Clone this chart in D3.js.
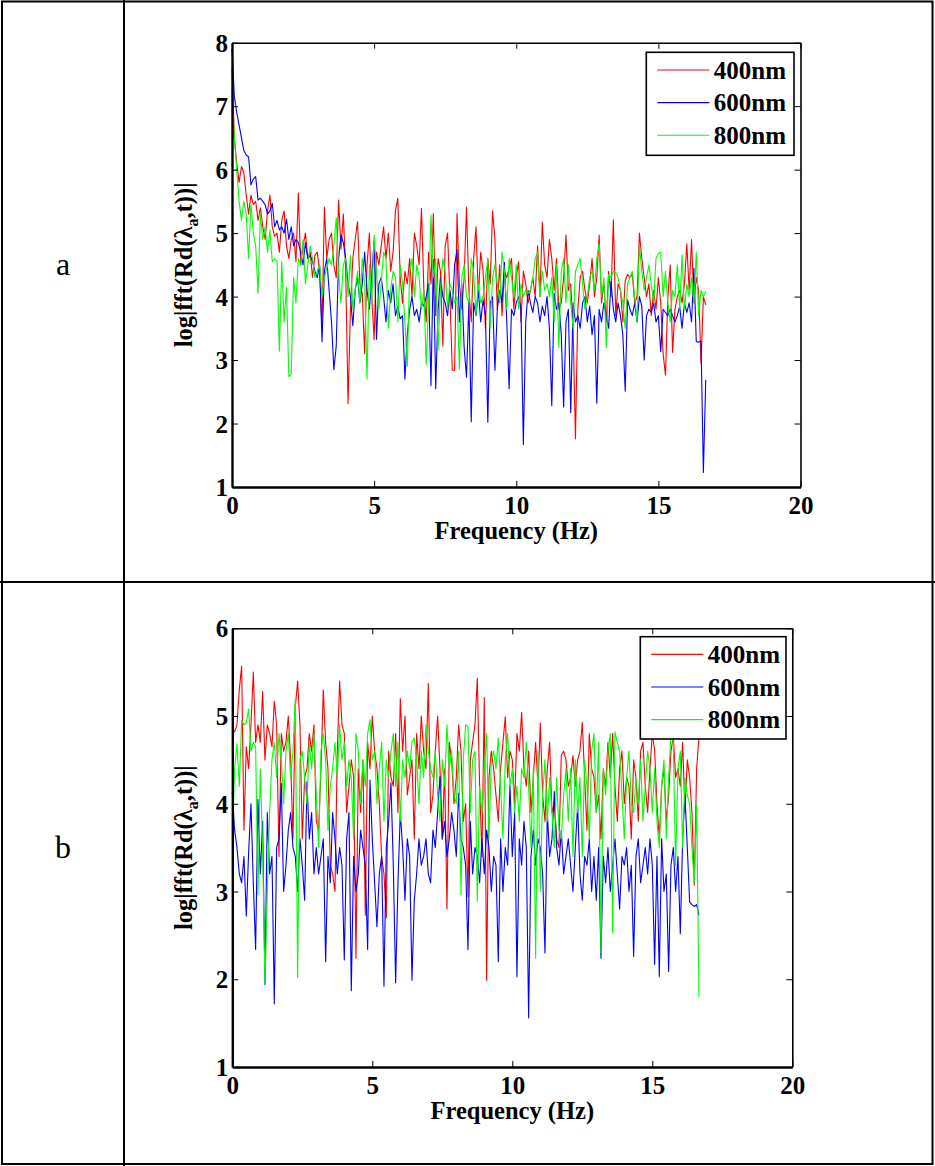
<!DOCTYPE html>
<html><head><meta charset="utf-8">
<script src="https://cdn.jsdelivr.net/npm/d3@7"></script>
<style>body{margin:0;background:#fff}svg{display:block}</style>
</head><body><svg id="c" width="935" height="1166"></svg>
<script>
const panelLabels = ["a", "b"];
const seriesNames = ["400nm", "600nm", "800nm"];
const seriesColors = ["#ff0000", "#0000ff", "#00ff00"];
const freqStep = 1 / 12; // Hz between samples
const xTicks = [0, 5, 10, 15, 20];
const yTicksA = [1, 2, 3, 4, 5, 6, 7, 8];
const yTicksB = [1, 2, 3, 4, 5, 6];
const xTitle = "Frequency (Hz)";

// panel a
const a400 = [
7.6,6.5,6.1,5.8,6.05,5.95,5.6,5.3,5.6,5.45,5.5,5.2,
5.4,5.1,4.9,5.35,5.6,5.1,4.95,5.0,4.7,5.2,5.35,4.8,
4.6,4.9,5.0,4.55,5.63,4.5,4.8,5.0,4.6,4.7,4.3,4.65,
4.7,4.4,3.5,5.41,4.6,4.9,5.0,4.5,4.3,5.52,4.75,5.3,
4.4,2.31,3.8,4.6,4.9,5.18,4.2,4.05,3.1,4.5,5.0,4.0,
3.32,4.7,4.5,4.8,5.1,4.6,5.0,4.4,4.7,5.35,5.55,4.3,
3.9,4.4,4.2,4.6,4.0,5.0,4.8,4.5,5.39,4.1,3.6,4.7,
4.2,5.31,3.7,4.6,4.4,3.22,4.8,5.0,4.0,2.84,2.84,5.31,
4.2,3.8,4.3,5.41,4.1,3.6,4.6,5.1,4.0,4.7,4.4,3.5,
4.6,4.2,5.35,4.9,3.8,4.5,3.7,4.4,4.3,4.45,4.6,3.8,
4.3,4.55,3.6,4.4,4.2,3.9,4.1,4.3,4.0,4.8,4.0,5.17,
4.5,4.3,4.9,4.6,4.1,4.6,3.8,3.9,4.3,4.97,4.1,4.2,
3.5,1.76,3.8,4.3,4.4,4.1,3.9,4.2,4.6,4.0,4.3,4.97,
3.9,4.2,3.6,4.4,4.0,5.21,3.7,4.2,4.1,3.6,4.25,4.35,
4.3,4.35,3.9,4.0,5.0,4.6,4.3,4.0,4.2,3.7,4.1,3.8,
4.3,3.9,3.1,2.76,4.0,4.5,3.12,3.8,4.0,4.1,3.9,4.2,
4.83,4.1,4.9,3.9,4.3,4.1,2.95,4.0,3.87];
const a600 = [
7.9,7.15,6.9,6.7,6.5,6.3,6.23,6.2,5.76,5.85,5.89,5.52,
5.55,5.5,5.45,5.3,5.35,5.47,5.1,5.2,5.05,5.1,5.0,5.22,
4.9,5.1,4.8,4.9,4.85,4.7,4.5,4.85,4.6,4.65,4.55,4.4,
4.3,4.5,3.29,4.4,4.6,4.1,3.6,2.85,3.22,4.6,4.97,4.85,
4.6,4.2,4.0,3.54,4.1,4.3,3.9,4.2,4.7,4.1,3.8,4.3,
4.89,3.33,4.2,4.3,4.0,3.6,4.1,3.9,4.2,3.7,3.85,3.65,
3.7,2.7,3.4,3.8,4.0,3.7,3.8,3.6,3.9,3.85,4.0,4.2,
2.6,4.58,2.55,3.8,4.3,4.0,3.9,3.7,4.1,3.8,4.5,4.74,
3.6,4.2,3.2,2.73,3.9,2.03,3.9,3.7,4.1,3.6,3.95,3.7,
2.02,3.9,4.0,2.84,3.8,4.1,3.9,4.54,3.6,2.55,3.8,3.7,
3.9,4.0,3.8,1.67,3.6,4.1,3.9,3.75,4.0,3.9,3.6,3.85,
3.7,4.0,3.5,2.28,4.05,3.8,3.9,3.4,2.26,3.6,3.8,2.17,
3.9,3.6,3.7,3.5,3.9,4.0,3.6,3.85,3.4,3.7,2.32,3.8,
3.6,3.9,3.7,3.5,4.24,3.8,3.6,3.9,3.7,3.4,2.51,3.95,
3.8,3.7,3.9,3.6,4.0,3.85,3.0,3.7,3.8,3.75,3.9,3.6,
3.7,3.13,3.8,3.75,3.7,3.8,3.7,3.6,3.7,3.85,3.5,3.9,
3.75,3.9,3.6,4.45,3.29,3.28,3.3,1.23,2.69];
const a800 = [
7.25,6.5,6.0,5.5,5.2,5.5,5.3,4.6,5.45,5.0,4.8,4.05,
5.3,4.9,5.1,4.7,5.05,4.55,4.6,4.55,3.14,4.55,3.6,4.15,
2.74,2.77,4.3,3.9,4.6,4.5,4.9,4.2,4.5,4.8,4.6,4.3,
4.4,4.5,4.0,4.3,4.45,4.6,4.5,4.8,5.24,4.4,3.9,4.5,
4.6,4.0,4.65,3.8,4.1,4.4,3.9,4.6,4.2,2.7,4.5,3.9,
4.97,4.4,3.8,4.2,4.7,4.6,3.5,4.1,4.4,4.3,3.6,4.5,
4.2,3.6,2.9,4.4,4.6,4.0,4.5,4.3,3.8,4.1,2.93,3.9,
5.28,4.3,4.6,3.16,4.1,4.6,4.4,3.8,4.2,4.1,3.9,4.0,
2.86,4.3,4.5,4.0,3.9,4.6,4.4,3.7,4.2,3.9,4.0,4.3,
4.6,3.5,4.3,4.5,4.2,3.9,4.7,4.4,3.8,4.6,4.3,4.0,
4.5,3.8,4.2,4.0,4.1,4.05,4.1,4.3,4.6,4.7,4.0,4.4,
4.1,4.2,4.0,4.3,3.6,4.5,3.2,4.4,4.6,3.9,4.5,3.9,
3.5,4.4,4.5,4.6,4.2,3.8,4.0,4.3,4.4,4.1,4.6,4.83,
4.0,4.3,3.2,4.35,4.3,4.4,4.38,4.3,4.1,3.9,3.5,4.2,
4.3,4.4,4.0,3.6,4.8,4.4,4.1,4.3,4.5,4.2,3.9,4.6,
4.68,4.7,4.0,4.4,3.9,3.6,4.1,4.0,4.5,3.8,4.66,3.8,
4.2,4.0,4.3,3.9,4.7,3.7,4.1,4.0,4.08];

// panel b
const b400 = [
4.85,4.82,4.9,5.3,5.57,3.7,4.65,4.4,4.9,5.5,4.7,4.9,
4.7,5.28,4.5,4.9,4.8,4.65,5.17,4.9,3.4,4.8,4.6,4.7,
5.0,4.5,3.6,5.1,5.4,4.9,3.6,4.3,4.4,4.8,4.6,4.9,
3.8,3.7,4.4,5.3,4.7,4.4,3.3,3.2,3.0,4.6,5.4,4.9,
4.8,3.9,4.2,4.5,4.3,2.24,4.4,3.9,4.5,2.73,4.7,4.4,
5.0,4.6,4.4,4.0,3.4,3.2,2.7,4.6,4.3,4.2,4.8,3.9,
5.2,4.6,5.0,4.1,4.3,4.5,3.6,4.8,4.4,5.0,4.6,4.4,
5.37,3.9,4.1,4.6,5.0,4.4,3.6,4.4,2.8,4.7,4.5,4.0,
4.3,4.9,4.6,3.8,4.0,2.94,4.5,4.7,4.9,5.43,4.2,3.4,
5.21,1.99,4.3,4.6,4.4,4.1,3.8,4.4,4.7,4.99,4.3,4.6,
4.5,4.0,4.8,4.6,5.04,4.4,4.2,4.6,3.9,4.3,4.7,4.2,
4.92,4.1,3.8,4.4,4.7,3.9,4.0,3.6,3.5,4.55,4.6,4.5,
4.2,4.3,4.55,4.2,4.5,4.6,4.93,4.3,3.7,4.8,4.4,4.3,
3.9,4.1,3.6,4.4,4.2,4.7,4.3,4.8,4.2,3.8,4.4,4.6,
4.0,4.3,4.2,3.6,4.5,4.3,3.8,4.6,4.7,4.2,3.9,4.4,
4.8,4.61,4.0,3.6,4.2,4.4,3.8,4.1,4.6,4.77,4.3,4.4,
4.2,4.7,3.9,4.5,4.3,3.9,3.07,4.4,4.76];
const b600 = [
4.14,3.7,3.5,3.2,3.1,3.4,2.72,3.45,4.0,3.1,2.34,4.05,
3.2,3.8,1.94,3.9,3.2,3.4,1.72,3.5,3.6,4.23,3.0,3.3,
3.7,3.9,3.5,3.4,3.0,3.6,3.3,2.9,4.25,3.6,3.9,3.2,
3.5,3.2,3.4,3.6,2.2,3.4,3.1,3.9,3.6,3.2,3.5,3.3,
2.22,3.6,3.9,1.87,3.4,3.0,3.2,3.7,3.5,3.3,2.34,4.27,
3.6,3.1,2.6,3.2,3.4,1.92,3.5,3.8,4.24,3.3,1.96,3.1,
3.9,3.5,2.9,3.6,3.4,1.99,2.9,3.2,3.6,3.3,3.4,3.6,
3.2,3.1,3.7,3.5,3.9,4.31,3.6,3.8,3.4,3.6,3.9,3.7,
3.4,4.12,3.6,3.5,3.3,2.34,3.8,3.2,3.5,3.4,3.1,3.6,
3.2,3.7,3.5,3.0,3.4,3.3,2.2,3.6,3.0,3.5,3.3,4.21,
3.4,3.9,2.03,3.6,3.3,3.8,3.5,1.56,3.4,3.7,3.3,3.6,
3.5,3.2,2.3,3.9,3.4,3.6,4.14,3.5,3.3,3.7,3.2,3.4,
3.6,3.3,3.0,3.5,3.99,3.2,2.9,3.4,3.3,3.6,3.0,3.4,
2.9,3.5,2.24,3.4,3.1,3.5,3.0,3.3,3.6,3.2,2.8,3.4,
3.3,3.5,3.0,3.3,2.26,3.4,3.6,3.1,3.3,3.5,3.2,3.6,
3.3,2.17,3.4,2.03,3.6,3.0,3.2,2.09,3.3,3.5,3.0,3.4,
2.52,3.6,4.1,3.5,2.88,2.85,2.83,2.85,2.73];
const b800 = [
3.59,4.4,4.68,4.2,4.95,4.9,4.92,5.08,4.6,4.7,4.65,2.96,
4.4,3.5,1.94,3.0,3.9,4.5,4.7,4.3,4.8,4.5,4.0,4.6,
4.8,4.3,4.6,5.19,2.02,4.5,4.6,4.3,4.0,4.7,4.4,4.8,
4.1,3.5,4.6,4.8,4.5,3.7,4.2,4.4,4.7,4.3,4.9,4.5,
4.7,4.2,4.5,4.3,3.6,4.8,4.6,4.0,4.5,4.2,4.8,4.96,
4.5,4.6,4.0,4.4,4.7,3.8,4.5,4.3,4.6,4.8,4.2,4.7,
3.8,4.5,4.3,4.6,4.4,4.7,4.75,4.5,4.0,4.6,4.3,4.9,
4.6,4.4,4.3,4.6,4.1,3.8,4.5,4.2,4.9,4.4,4.6,4.1,
4.0,4.6,2.96,4.5,4.9,4.88,3.9,4.5,4.6,2.89,4.2,3.9,
4.4,4.8,3.6,4.5,4.6,4.4,4.75,4.2,3.6,4.5,4.8,4.2,
4.4,3.9,4.2,3.8,4.4,4.3,4.7,4.2,3.5,4.4,2.24,4.6,
3.0,4.1,4.5,3.8,4.3,3.9,3.5,4.3,3.7,3.6,4.1,4.4,
3.8,4.4,3.4,4.5,3.9,4.3,3.4,4.5,4.2,3.6,4.6,4.8,
3.9,4.7,2.3,4.4,4.1,4.6,4.8,2.53,4.82,4.7,4.6,4.1,
3.6,4.3,4.6,4.0,3.9,4.3,4.0,4.5,3.8,4.2,4.6,4.4,
3.9,4.4,3.8,3.5,4.2,4.5,3.6,4.3,4.8,4.7,3.3,4.4,
4.6,3.5,4.3,4.1,4.0,3.5,3.1,4.0,1.8];

const panels = [
  { label: panelLabels[0], series: [a400, a600, a800], yTicks: yTicksA,
    box: { l: 232, r: 800.5, t: 42.7, b: 487 },
    legend: { x: 646.3, y: 52.3, w: 147.7, h: 103 } },
  { label: panelLabels[1], series: [b400, b600, b800], yTicks: yTicksB,
    box: { l: 232.3, r: 792.3, t: 628.3, b: 1067 },
    legend: { x: 640.3, y: 636.7, w: 145.7, h: 102.3 } }
];

const svg = d3.select("#c");
const FONT = "'Liberation Serif','Times New Roman',serif";

// table grid
const grid = svg.append("g").attr("stroke", "#000").attr("stroke-width", 2).attr("fill", "none");
grid.append("rect").attr("x", 2).attr("y", 1.5).attr("width", 930.5).attr("height", 1162.5);
grid.append("line").attr("x1", 124).attr("x2", 124).attr("y1", 0).attr("y2", 1166);
grid.append("line").attr("x1", 0).attr("x2", 935).attr("y1", 582).attr("y2", 582);

panels.forEach(p => {
  const B = p.box;
  const x = d3.scaleLinear().domain([0, 20]).range([B.l, B.r]);
  const yd = d3.extent(p.yTicks);
  const y = d3.scaleLinear().domain(yd).range([B.b, B.t]);
  const g = svg.append("g");

  // row label
  g.append("text").attr("x", 63).attr("y", (B.t + B.b) / 2 + 10)
    .attr("text-anchor", "middle").attr("font-family", FONT).attr("font-size", 32)
    .text(p.label);

  // data lines
  const line = d3.line().x((d, i) => x(i * freqStep)).y(d => y(d));
  p.series.forEach((s, k) => {
    g.append("path").datum(s).attr("d", line).attr("fill", "none")
      .attr("stroke", seriesColors[k]).attr("stroke-width", 1.1).attr("stroke-linejoin", "round");
  });

  // axes (MATLAB style: inward ticks on all four sides)
  const fmt = d3.format("d");
  const axB = d3.axisBottom(x).tickValues(xTicks).tickFormat(fmt).tickSizeInner(-6).tickSizeOuter(0).tickPadding(12);
  const axT = d3.axisTop(x).tickValues(xTicks).tickSizeInner(-6).tickSizeOuter(0).tickFormat("");
  const axL = d3.axisLeft(y).tickValues(p.yTicks).tickFormat(fmt).tickSizeInner(-6).tickSizeOuter(0).tickPadding(4);
  const axR = d3.axisRight(y).tickValues(p.yTicks).tickSizeInner(-6).tickSizeOuter(0).tickFormat("");

  const gb = g.append("g").attr("transform", `translate(0,${B.b})`).call(axB);
  const gt = g.append("g").attr("transform", `translate(0,${B.t})`).call(axT);
  const gl = g.append("g").attr("transform", `translate(${B.l},0)`).call(axL);
  const gr = g.append("g").attr("transform", `translate(${B.r},0)`).call(axR);
  [gb, gt, gl, gr].forEach(a => {
    a.selectAll("text").attr("font-family", FONT).attr("font-weight", "bold")
      .attr("font-size", 25).attr("fill", "#000");
    a.selectAll("line").attr("stroke", "#000").attr("stroke-width", 1);
    a.select(".domain").attr("stroke", "#000").attr("stroke-width", 1.6);
  });
  gb.select(".domain").attr("stroke-width", 2.4);
  gl.select(".domain").attr("stroke-width", 2.4);
  gb.selectAll("text").attr("dy", "0.71em").attr("y", 9);
  gl.selectAll("text").attr("dy", "0.34em");

  // axis titles
  g.append("text").attr("x", (B.l + B.r) / 2).attr("y", B.b + 52)
    .attr("text-anchor", "middle").attr("font-family", FONT).attr("font-weight", "bold")
    .attr("font-size", 24.5).text(xTitle);
  const yl = g.append("text")
    .attr("transform", `translate(192,${(B.t + B.b) / 2}) rotate(-90)`)
    .attr("text-anchor", "middle").attr("font-family", FONT).attr("font-weight", "bold")
    .attr("font-size", 24.5);
  yl.append("tspan").text("log|fft(Rd(\u03bb");
  yl.append("tspan").attr("dy", 6).attr("font-size", 16).text("a");
  yl.append("tspan").attr("dy", -6).text(",t))|");

  // legend
  const L = p.legend;
  const lg = g.append("g");
  lg.append("rect").attr("x", L.x).attr("y", L.y).attr("width", L.w).attr("height", L.h)
    .attr("fill", "#fff").attr("stroke", "#000").attr("stroke-width", 1.6);
  seriesNames.forEach((n, k) => {
    const ly = L.y + 17.7 + k * 32.6;
    lg.append("line").attr("x1", L.x + 11).attr("x2", L.x + 63).attr("y1", ly).attr("y2", ly)
      .attr("stroke", seriesColors[k]).attr("stroke-width", 1.1);
    lg.append("text").attr("x", L.x + 67.5).attr("y", ly + 8.6)
      .attr("font-family", FONT).attr("font-weight", "bold").attr("font-size", 25).text(n);
  });
});
</script></body></html>
